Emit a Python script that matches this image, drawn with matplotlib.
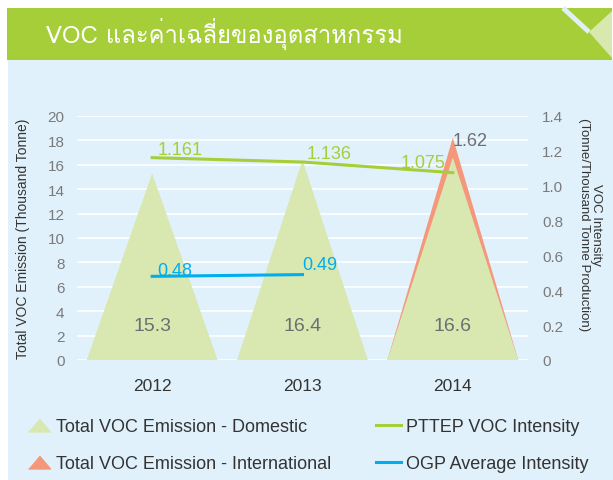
import matplotlib
matplotlib.use("Agg")
import matplotlib.pyplot as plt
from matplotlib import font_manager
from matplotlib.ft2font import FT2Font
from matplotlib.lines import Line2D
from matplotlib.patches import Polygon, Rectangle

W, H = 613, 481

years = ["2012", "2013", "2014"]
domestic = [15.3, 16.4, 16.6]
international = [0, 0, 1.62]
pttep_intensity = [1.161, 1.136, 1.075]
ogp_intensity = [0.48, 0.49]
left_ticks = list(range(0, 21, 2))
right_ticks = [0, 0.2, 0.4, 0.6, 0.8, 1.0, 1.2, 1.4]
right_labels = ["0", "0.2", "0.4", "0.6", "0.8", "1.0", "1.2", "1.4"]

GREEN = "#a6ce39"
PALE_GREEN = "#d9e7b1"
SALMON = "#f4977a"
BLUE = "#00aeef"
PANEL = "#e0f1fb"
GREY = "#6d6e71"


def thai_family():
    for entry in font_manager.fontManager.ttflist:
        try:
            if FT2Font(entry.fname).get_char_index(ord("ค")):
                return entry.name
        except Exception:
            continue
    return "DejaVu Sans"


plt.rcParams["font.family"] = ["Liberation Sans", "DejaVu Sans"]


def fx(px):
    return px / W


def fy(py):
    return 1 - py / H


fig = plt.figure(figsize=(W / 100, H / 100), dpi=100)
fig.patch.set_facecolor("white")

# panel + header (behind the axes)
fig.patches.append(Rectangle((fx(8), 0), 1 - fx(8), fy(61), transform=fig.transFigure,
                             facecolor=PANEL, edgecolor="none", zorder=-3))
fig.patches.append(Rectangle((fx(7), fy(61)), fx(605), fy(9) - fy(61), transform=fig.transFigure,
                             facecolor=GREEN, edgecolor="none", zorder=-2))
fig.patches.append(Polygon([(fx(612), fy(12)), (fx(589), fy(33)), (fx(612), fy(59))],
                           closed=True, transform=fig.transFigure,
                           facecolor="#d9e8ae", edgecolor="none", zorder=-1))
fig.lines.append(Line2D([fx(563), fx(589)], [fy(9), fy(33)], transform=fig.transFigure,
                        color="#dff0f8", lw=3.5, zorder=-1, solid_capstyle="butt"))
fig.text(fx(46), fy(43), "VOC และค่าเฉลี่ยของอุตสาหกรรม", color="white", fontsize=17.2,
         family=[thai_family(), "DejaVu Sans"], ha="left", va="baseline")

ax = fig.add_axes([fx(77), fy(361), fx(528) - fx(77), fy(117) - fy(361)])
ax.set_facecolor("none")
ax2 = ax.twinx()

x = list(range(len(years)))
half = 0.435
for i, (d, extra) in enumerate(zip(domestic, international)):
    if extra:
        ax.fill([i - half, i, i + half], [0, d + extra, 0], color=SALMON, lw=0, zorder=2)
        ax.annotate(f"{extra:.2f}", (i, d + extra), xytext=(0, -2), textcoords="offset points",
                    ha="left", va="center", fontsize=13, color=GREY)
    ax.fill([i - half, i, i + half], [0, d, 0], color=PALE_GREEN, lw=0, zorder=3)
    ax.text(i, 2.8, f"{d}", ha="center", va="center", fontsize=14, color=GREY, zorder=5)

ax.set_xlim(-0.5, 2.5)
ax.set_ylim(0, 20)
ax.set_yticks(left_ticks)
ax.set_xticks(x)
ax.set_xticklabels(years, fontsize=12.5, color="#333333")
ax.tick_params(axis="x", length=0, pad=13)
ax.tick_params(axis="y", length=0, pad=9, labelsize=11, labelcolor="#7a7a7a")
ax.grid(axis="y", color="white", lw=1.2, zorder=0)
ax.set_axisbelow(True)
for s in ax.spines.values():
    s.set_visible(False)
ax.set_ylabel("Total VOC Emission (Thousand Tonne)", fontsize=10, color="#333333")
ax.yaxis.set_label_coords((30 - 77) / 451, 0.5)

ax2.plot(x, pttep_intensity, color=GREEN, lw=2.2, zorder=6)
ax2.plot(x[:2], ogp_intensity, color=BLUE, lw=2.2, zorder=6)
ax2.set_ylim(0, 1.4)
ax2.set_yticks(right_ticks)
ax2.set_yticklabels(right_labels)
ax2.tick_params(axis="y", length=0, pad=10, labelsize=11, labelcolor="#7a7a7a")
for s in ax2.spines.values():
    s.set_visible(False)
ax2.set_ylabel("VOC Intensity\n(Tonne/Thousand Tonne Production)", fontsize=9.5,
               color="#333333", rotation=270, va="center", ha="center", linespacing=1.0)
ax2.yaxis.set_label_coords((590 - 77) / 451, (361 - 225) / 244)

pttep_offsets = [(4, 6, "left"), (3, 6, "left"), (-5, 7, "right")]
for i, v in enumerate(pttep_intensity):
    dx, dy, ha = pttep_offsets[i]
    ax2.annotate(f"{v:.3f}", (i, v), xytext=(dx, dy), textcoords="offset points",
                 ha=ha, va="center", fontsize=13, color=GREEN, zorder=7)
ogp_offsets = [(4, 4), (0, 7)]
for i, v in enumerate(ogp_intensity):
    dx, dy = ogp_offsets[i]
    ax2.annotate(f"{v:.2f}", (i, v), xytext=(dx, dy), textcoords="offset points",
                 ha="left", va="center", fontsize=13, color=BLUE, zorder=7)

tri = [(-1, -0.59), (1, -0.59), (0, 0.59)]
handles = [
    Line2D([], [], ls="none", marker=tri, ms=15.8, color=PALE_GREEN),
    Line2D([], [], ls="none", marker=tri, ms=15.8, color=SALMON),
    Line2D([], [], color=GREEN, lw=2.2),
    Line2D([], [], color=BLUE, lw=2.2),
]
labels = ["Total VOC Emission - Domestic", "Total VOC Emission - International",
          "PTTEP VOC Intensity", "OGP Average Intensity"]
fig.legend(handles, labels, ncol=2, loc="upper left", bbox_to_anchor=(fx(26), fy(419)),
           frameon=False, borderpad=0, borderaxespad=0, handlelength=1.4,
           handletextpad=0.25, columnspacing=2.5, labelspacing=1.12,
           prop={"size": 13}, labelcolor="#333333")

fig.savefig("out.png", dpi=100, facecolor=fig.get_facecolor())
